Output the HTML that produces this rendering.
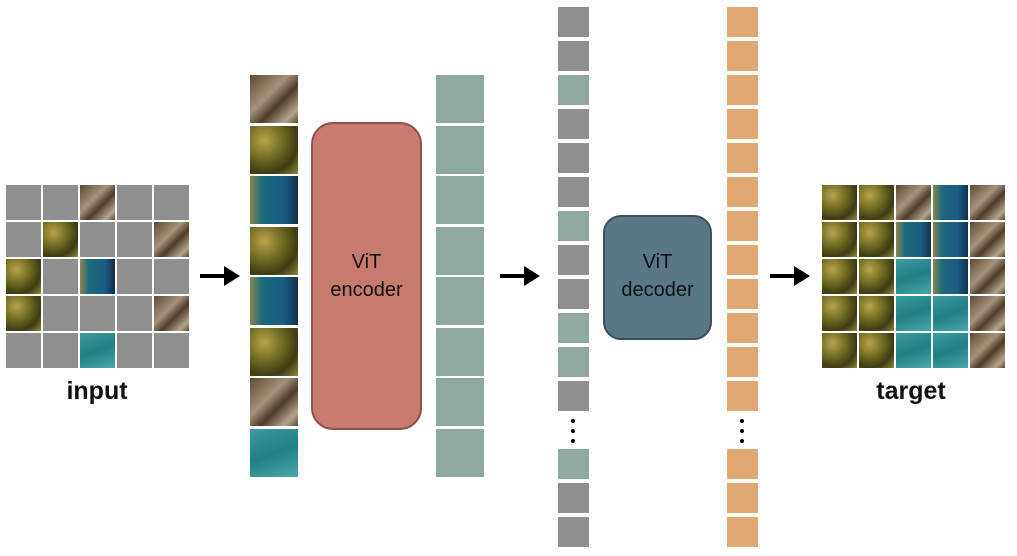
<!DOCTYPE html><html><head><style>
body{margin:0;width:1017px;height:556px;background:#fff;position:relative;overflow:hidden;font-family:"Liberation Sans",sans-serif}
div{position:absolute;box-sizing:border-box}
.g{background:#8f8f8f}
.G{background:radial-gradient(circle at 30% 30%,#b7a44a 0,#6d6a22 40%,#3e3a14 70%,#8c8a3a 100%)}
.B{background:linear-gradient(135deg,#5d4a36,#a4927a 40%,#4d3c2a 60%,#b3a48c 85%,#5a4632)}
.T{background:linear-gradient(160deg,#3c9ca0,#1f7f86 50%,#4aa8a8)}
.K{background:linear-gradient(90deg,#8a8650 0,#1c6a7a 25%,#1a5c86 70%,#12304a)}
.tl{background:#8fa8a2}
.or{background:#e1a874}
.lbl{font-size:25px;font-weight:bold;color:#111;text-align:center}
.vit{font-size:20px;line-height:28px;font-weight:normal;color:#111;text-align:center}
.arr{height:4px;background:#000}
.head{width:0;height:0;border-top:10px solid transparent;border-bottom:10px solid transparent;border-left:16px solid #000}
.dot{width:4px;height:4px;border-radius:50%;background:#000}
</style></head><body>
<div id="in"></div>
<script>
function grid(x0,y0,layout){var s='';for(var r=0;r<5;r++)for(var c=0;c<5;c++){s+='<div class="'+layout[r][c]+'" style="left:'+(x0+c*37)+'px;top:'+(y0+r*37)+'px;width:35px;height:35px"></div>';}return s;}
var h='';
h+=grid(6,185,[['g','g','B','g','g'],['g','G','g','g','B'],['G','g','K','g','g'],['G','g','g','g','B'],['g','g','T','g','g']]);
h+=grid(822,185,[['G','G','B','K','B'],['G','G','K','K','B'],['G','G','T','K','B'],['G','G','T','T','B'],['G','G','T','T','B']]);
var pc=['B','G','K','G','K','G','B','T'];
for(var i=0;i<8;i++)h+='<div class="'+pc[i]+'" style="left:250px;top:'+(75+i*50.5)+'px;width:48px;height:48px"></div>';
for(var i=0;i<8;i++)h+='<div class="tl" style="left:436px;top:'+(75+i*50.5)+'px;width:48px;height:48px"></div>';
var col=['g','g','tl','g','g','g','tl','g','g','tl','tl','g'];
var tops=[];for(var i=0;i<12;i++)tops.push(7+i*34);tops.push(449,483,517);col.push('tl','g','g');
for(var i=0;i<15;i++){h+='<div class="'+col[i]+'" style="left:558px;top:'+tops[i]+'px;width:31px;height:30px"></div>';h+='<div class="or" style="left:727px;top:'+tops[i]+'px;width:31px;height:30px"></div>';}
for(var k=0;k<3;k++){h+='<div class="dot" style="left:571px;top:'+(419+k*10)+'px"></div><div class="dot" style="left:740px;top:'+(419+k*10)+'px"></div>';}
[[200,240],[500,540],[770,810]].forEach(function(a){h+='<div class="arr" style="left:'+a[0]+'px;top:274px;width:'+(a[1]-a[0]-12)+'px"></div><div class="head" style="left:'+(a[1]-16)+'px;top:266px"></div>';});
document.getElementById('in').outerHTML=h;
</script>
<div style="left:311px;top:122px;width:111px;height:308px;background:#c97a6e;border:2px solid #8e5048;border-radius:22px"></div>
<div class="vit" style="left:311px;top:248px;width:111px">ViT<br>encoder</div>
<div style="left:603px;top:215px;width:109px;height:125px;background:#5a7788;border:2px solid #3b4f5c;border-radius:18px"></div>
<div class="vit" style="left:603px;top:248px;width:109px">ViT<br>decoder</div>
<div class="lbl" style="left:47px;top:377px;width:100px">input</div>
<div class="lbl" style="left:861px;top:377px;width:100px">target</div>
</body></html>
